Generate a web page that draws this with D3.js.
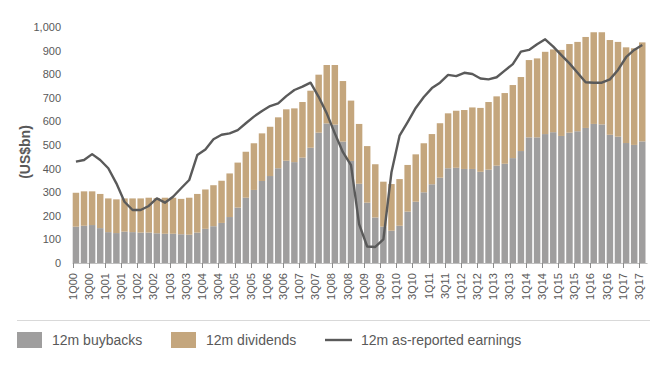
<!DOCTYPE html>
<html><head><meta charset="utf-8">
<script src="https://cdn.jsdelivr.net/npm/d3@7/dist/d3.min.js"></script>
<style>body{margin:0;background:#fff}svg{display:block;font-family:"Liberation Sans",Arial,sans-serif}</style>
</head><body><svg id="c" width="662" height="369"></svg>
<script>
const quarters = [];
for (let y = 0; y <= 17; y++) for (let q = 1; q <= 4; q++) { if (y === 17 && q === 4) break; quarters.push(q + "Q" + String(y).padStart(2, "0")); }

const buybacks = [154,158,161,148,131,127,133,131,129,129,126,124,124,122,120,129,145,156,170,195,
  235,277,310,348,369,402,434,428,447,489,553,592,587,515,433,336,256,193,154,137,
  158,218,260,300,334,362,402,404,399,399,387,396,413,421,445,475,533,533,547,555,
  539,553,559,573,590,588,544,536,509,501,516];
const dividends = [144,146,143,145,143,143,141,143,145,148,149,153,153,150,157,164,167,174,179,185,
  191,195,198,202,209,216,218,228,236,242,246,248,253,257,256,254,240,226,191,198,
  198,198,201,208,213,231,233,242,250,261,271,287,294,300,310,314,328,335,349,351,
  365,376,379,386,389,391,402,402,406,410,420];
const earnings = [430,437,462,437,402,338,260,225,225,242,274,256,281,317,352,458,482,525,544,550,
  564,593,621,645,666,677,708,734,748,765,705,635,550,470,415,165,70,68,100,385,
  540,598,658,704,742,765,798,793,807,802,783,779,788,816,844,897,904,928,949,918,
  882,847,807,767,765,765,779,819,873,904,925];
const yTicks = [0,100,200,300,400,500,600,700,800,900,1000];
const tickQuarters = quarters.filter((d, i) => i % 2 === 0);
const seriesNames = ["12m buybacks", "12m dividends", "12m as-reported earnings"];
const colors = { buy: "#9f9e9e", div: "#c4a67d", line: "#5a5a5a" };

const svg = d3.select("#c");
const x = d3.scaleBand().domain(quarters).range([72.7, 645.5]).paddingInner(0.2).paddingOuter(0);
const y = d3.scaleLinear().domain([0, 1000]).range([263, 27.3]);

const rows = quarters.map((q, i) => ({ q, buy: buybacks[i], div: dividends[i], earn: earnings[i] }));
const stack = d3.stack().keys(["buy", "div"])(rows);

svg.append("g").selectAll("g").data(stack).join("g")
  .attr("fill", d => colors[d.key])
  .selectAll("rect").data(d => d).join("rect")
  .attr("x", d => x(d.data.q)).attr("width", x.bandwidth())
  .attr("y", d => y(d[1])).attr("height", d => y(d[0]) - y(d[1]));

// y tick labels
svg.append("g").selectAll("text").data(yTicks).join("text")
  .attr("x", 61).attr("y", d => y(d)).attr("dy", "0.35em")
  .attr("text-anchor", "end").attr("font-size", 11).attr("fill", "#595959")
  .text(d => d3.format(",")(d));

// x axis
const ax = svg.append("g");
ax.append("line").attr("x1", 72.5).attr("x2", 647.5).attr("y1", 263.5).attr("y2", 263.5)
  .attr("stroke", "#bfbfbf").attr("stroke-width", 1);
ax.selectAll("line.t").data(tickQuarters).join("line").attr("class", "t")
  .attr("x1", d => Math.round(x(d)) + 0.5).attr("x2", d => Math.round(x(d)) + 0.5)
  .attr("y1", 263).attr("y2", 268).attr("stroke", "#8c8c8c");
ax.selectAll("text").data(tickQuarters).join("text")
  .attr("transform", d => `translate(${x(d)},273) rotate(-90)`)
  .attr("dy", "0.35em").attr("text-anchor", "end")
  .attr("font-size", 11).attr("fill", "#595959").text(d => d);

// line
const line = d3.line().x(d => x(d.q) + x.bandwidth() / 2).y(d => y(d.earn));
svg.append("path").datum(rows).attr("d", line).attr("fill", "none")
  .attr("stroke", colors.line).attr("stroke-width", 2.4).attr("stroke-linejoin", "round");

// y title
svg.append("text").attr("transform", "translate(25,152) rotate(-90)")
  .attr("dy", "0.35em").attr("text-anchor", "middle")
  .attr("font-size", 14).attr("font-weight", "bold").attr("fill", "#595959").text("(US$bn)");

// legend
svg.append("line").attr("x1", 17).attr("x2", 650).attr("y1", 320.5).attr("y2", 320.5)
  .attr("stroke", "#d9d9d9");
const lg = svg.append("g");
lg.append("rect").attr("x", 17).attr("y", 332).attr("width", 25).attr("height", 16).attr("fill", colors.buy);
lg.append("text").attr("x", 52).attr("y", 340).attr("dy", "0.35em").attr("font-size", 14).attr("fill", "#595959").text(seriesNames[0]);
lg.append("rect").attr("x", 171).attr("y", 332).attr("width", 25).attr("height", 16).attr("fill", colors.div);
lg.append("text").attr("x", 206).attr("y", 340).attr("dy", "0.35em").attr("font-size", 14).attr("fill", "#595959").text(seriesNames[1]);
lg.append("line").attr("x1", 325).attr("x2", 352).attr("y1", 340).attr("y2", 340).attr("stroke", colors.line).attr("stroke-width", 2.4);
lg.append("text").attr("x", 361).attr("y", 340).attr("dy", "0.35em").attr("font-size", 14).attr("fill", "#595959").text(seriesNames[2]);
</script></body></html>
